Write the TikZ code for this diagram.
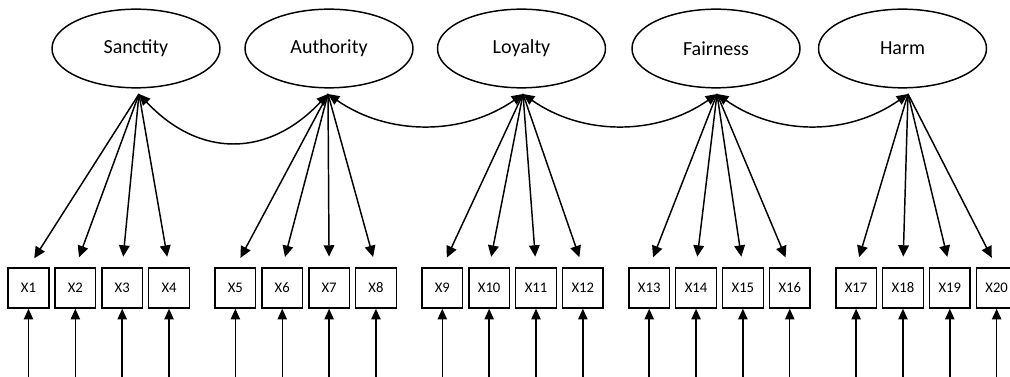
\documentclass[tikz,border=0pt]{standalone}
\usepackage{fontspec}
\setmainfont{Carlito}
\usetikzlibrary{arrows.meta,shapes.geometric}
\begin{document}
\begin{tikzpicture}[x=0.75pt,y=-0.75pt,line width=1.1pt,
  factor/.style={draw,ellipse,minimum width=126pt,minimum height=59pt,inner sep=0pt,
    font=\fontsize{15}{18}\selectfont},
  indicator/.style={draw,rectangle,minimum width=30.5pt,minimum height=30pt,inner sep=0pt,
    font=\fontsize{11}{13}\selectfont},
  loading/.style={-{Triangle[length=8.5pt,width=8pt]},shorten >=8pt},
  errarrow/.style={-{Triangle[length=8pt,width=7pt]}},
  covar/.style={{Triangle[length=8.5pt,width=7.5pt]}-{Triangle[length=8.5pt,width=7.5pt]}}]
\useasboundingbox (0,0) rectangle (1010,377);

% latent factors
\node[factor] (F1) at (136,48.5) {Sanctity};
\node[factor] (F2) at (329,48.5) {Authority};
\node[factor] (F3) at (521.5,48.5) {Loyalty};
\node[factor] (F4) at (716,48.5) {Fairness};
\node[factor] (F5) at (902.5,48.5) {Harm};

% points where loadings and covariances meet below each factor
\coordinate (c1) at (139,94);
\coordinate (c2) at (328,94);
\coordinate (c3) at (523,94);
\coordinate (c4) at (717,94);
\coordinate (c5) at (908,94);

% observed indicators, four per factor
\foreach \i in {1,...,20}{
  \pgfmathtruncatemacro{\g}{(\i-1)/4}
  \pgfmathtruncatemacro{\k}{mod(\i-1,4)}
  \pgfmathsetmacro{\xx}{28.5+206.9*\g+46.85*\k}
  \pgfmathtruncatemacro{\f}{\g+1}
  \node[indicator] (x\i) at (\xx,288) {X\i};
  \draw[loading] (c\f) -- (x\i.north);
  \coordinate (e\i) at (x\i.south |- 0,377);
  \draw[errarrow] (e\i) -- (x\i.south);
}

% covariances between neighbouring factors
\draw[covar] (c1) .. controls (199,158) and (268,158) .. (c2);
\draw[covar] (c2) .. controls (388,136) and (463,136) .. (c3);
\draw[covar] (c3) .. controls (583,136) and (657,136) .. (c4);
\draw[covar] (c4) .. controls (777,136) and (848,136) .. (c5);
\end{tikzpicture}
\end{document}
